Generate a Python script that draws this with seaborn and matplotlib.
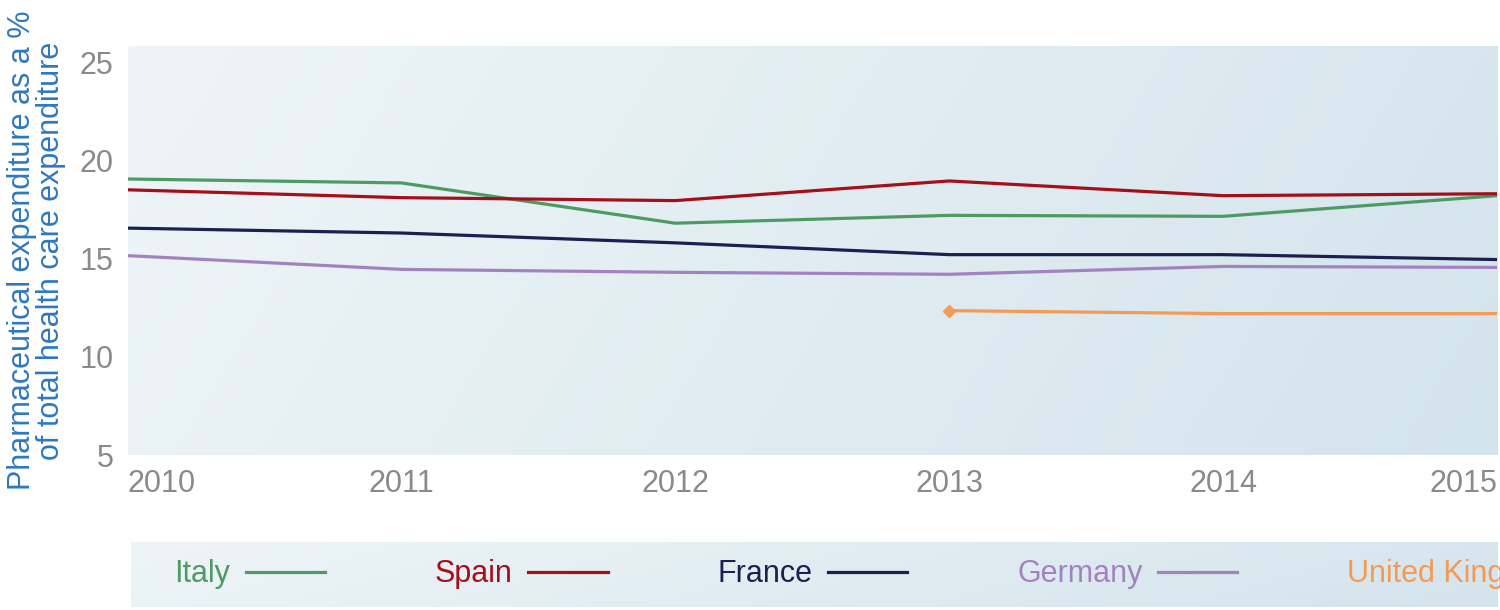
import matplotlib
matplotlib.use("Agg")
import matplotlib.pyplot as plt
import seaborn as sns
import numpy as np
import pandas as pd

plt.rcParams["font.family"] = "Liberation Sans"

years = [2010, 2011, 2012, 2013, 2014, 2015]
italy = [19.05, 18.85, 16.8, 17.2, 17.15, 18.2]
spain = [18.5, 18.1, 17.95, 18.95, 18.2, 18.3]
france = [16.55, 16.3, 15.8, 15.2, 15.2, 14.95]
germany = [15.15, 14.45, 14.3, 14.2, 14.6, 14.55]
uk_years = [2013, 2014, 2015]
uk = [12.35, 12.2, 12.2]
names = ["Italy", "Spain", "France", "Germany", "United Kingdom"]
colors = ["#4e9a64", "#a50f1a", "#1c1f4f", "#a383bf", "#f59a56"]

rows = []
for n, vals in zip(names[:4], [italy, spain, france, germany]):
    rows += [dict(year=y, value=v, country=n) for y, v in zip(years, vals)]
rows += [dict(year=y, value=v, country=names[4]) for y, v in zip(uk_years, uk)]
df = pd.DataFrame(rows)

fig = plt.figure(figsize=(15, 6.1), dpi=100)
ax = fig.add_axes([0.085, 0.254, 0.913, 0.67])

cmap = matplotlib.colors.LinearSegmentedColormap.from_list("g", ["#eef5f8", "#d4e4ec"])
def bg(a):
    gx = np.linspace(0, 1, 256)[None, :]
    gy = np.linspace(0, 1, 64)[:, None]
    a.imshow(gx * 0.85 + gy * 0.15, cmap=cmap, aspect="auto", extent=[0, 1, 0, 1],
             transform=a.transAxes, zorder=0, vmin=0, vmax=1)
bg(ax)

sns.lineplot(data=df, x="year", y="value", hue="country", hue_order=names,
             palette=colors, linewidth=2.3, ax=ax, legend=False, zorder=3)
ax.plot(uk_years[0], uk[0], marker="D", color=colors[4], markersize=6, zorder=4)

ax.set_xlim(2010, 2015)
ax.set_ylim(5, 25.8)
ax.set_yticks([5, 10, 15, 20, 25])
ax.set_xticks(years)
ax.tick_params(length=0, labelsize=22, labelcolor="#8a8a8a", pad=10)
xl = ax.get_xticklabels()
xl[0].set_ha("left"); xl[-1].set_ha("right")
for s in ax.spines.values():
    s.set_visible(False)
ax.grid(False)
ax.set_xlabel("")
ax.set_ylabel("Pharmaceutical expenditure as a %\nof total health care expenditure",
              fontsize=22, color="#2f78bf", labelpad=10, linespacing=0.95)

lax = fig.add_axes([0.087, 0.005, 0.911, 0.107])
bg(lax)
lax.set_xticks([]); lax.set_yticks([])
for s in lax.spines.values():
    s.set_visible(False)
handles = [matplotlib.lines.Line2D([], [], color=c, lw=2.3) for c in colors]
leg = lax.legend(handles, names, loc="center left", ncol=5, frameon=False,
                 markerfirst=False, fontsize=22, handlelength=2.6, handletextpad=0.5,
                 columnspacing=3.6, bbox_to_anchor=(0.012, 0.5))
for t, c in zip(leg.get_texts(), colors):
    t.set_color(c)

fig.savefig("out.png", dpi=100)
